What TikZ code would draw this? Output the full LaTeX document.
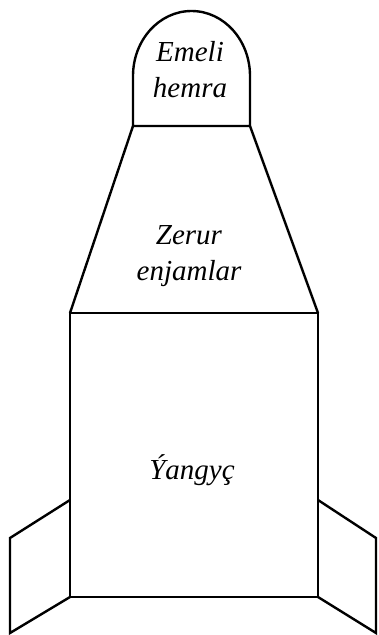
\documentclass[tikz,border=0pt]{standalone}
\usepackage{fontspec}
\setmainfont{Liberation Serif}
\tikzset{
  part/.style={draw=black, line width=2.4pt, line join=miter},
  parttext/.style={align=center, font=\fontsize{29}{36}\selectfont\itshape}
}

\begin{document}
\begin{tikzpicture}[x=1pt, y=-1pt]
  \useasboundingbox (0,0) rectangle (378,635);
  % body and cone
  \draw[part] (70,313) rectangle (318,597);
  \draw[part] (133,126) -- (70,313);
  \draw[part] (250,126) -- (318,313);
  % fins
  \draw[part] (70,500) -- (10,538) -- (10,633) -- (70,597);
  \draw[part] (318,500) -- (376,538) -- (376,633) -- (318,597);
  % dome
  \draw[part] (133,126) -- (133,76) arc[start angle=180, end angle=0, x radius=58.5, y radius=-65] -- (250,126) -- cycle;
  \node[parttext] (dome) at (190,70) {Emeli\\hemra};
  \node[parttext] (cone) at (189,256) {Zerur\\enjamlar};
  \node[parttext] (body) at (192,470) {Ýangyç};
\end{tikzpicture}
\end{document}
